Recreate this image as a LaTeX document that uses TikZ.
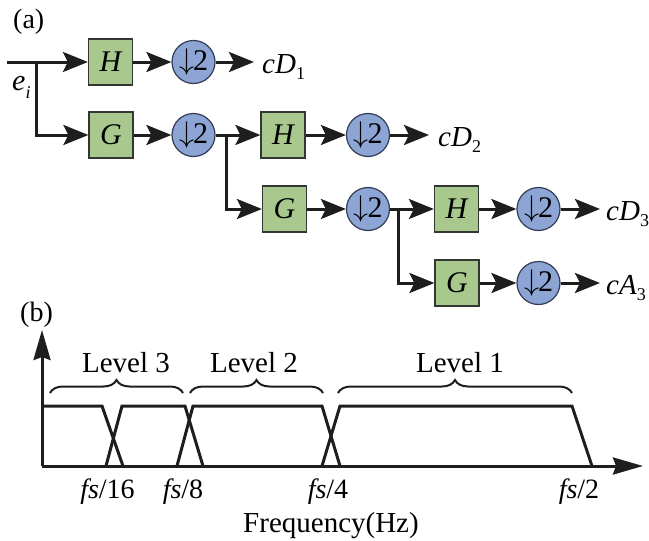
\RequirePackage{fix-cm}
\documentclass[tikz,border=0pt]{standalone}
\usepackage{fontspec}
\setmainfont{Liberation Serif}
\usetikzlibrary{arrows.meta,decorations.pathreplacing}
\newcommand\fsz[1]{\fontsize{#1}{#1}\selectfont}
\definecolor{boxgreen}{RGB}{168,200,141}
\definecolor{circblue}{RGB}{140,165,212}
\definecolor{boxdraw}{RGB}{50,55,50}
\definecolor{circdraw}{RGB}{50,60,85}
\definecolor{linecol}{RGB}{30,30,30}
\tikzset{
  filt/.style={draw=boxdraw, fill=boxgreen, line width=1.2pt, minimum width=44pt, minimum height=46pt, inner sep=0pt, font=\fsz{30}\itshape},
  dsamp/.style={circle, draw=circdraw, fill=circblue, line width=1.2pt, minimum size=43pt, inner sep=0pt, font=\fsz{30}},
  conn/.style={line width=3pt, draw=linecol},
  arr/.style={conn, -{Stealth[length=25pt,width=20pt,inset=5pt]}},
  axisarr/.style={conn, -{Stealth[length=30pt,width=17pt,inset=3pt]}},
  band/.style={line width=3pt, draw=linecol},
  lvlbrace/.style={decorate, decoration={brace, amplitude=13pt}, line width=2pt, draw=linecol},
  outlbl/.style={anchor=base west, inner sep=0pt, font=\fsz{29}},
  txt/.style={inner sep=0pt, font=\fsz{28}},
}
\newcommand\dn{\raisebox{1pt}{$\downarrow$}\kern-1pt2}
\begin{document}
\begin{tikzpicture}[x=1pt,y=-1pt]
\useasboundingbox (0,0) rectangle (649,541);
% ---------- (a) ----------
\node[txt, anchor=west] (la) at (13,22) {(a)};
% row 1
\coordinate (in) at (7,62);
\coordinate (b1) at (36,62);
\node[filt] (H1) at (110.5,62) {H};
\node[dsamp] (D1) at (193.5,62) {\dn};
\coordinate (o1) at (254,62);
\node[outlbl] (t1) at (262,73) {\textit{cD}\raisebox{-6pt}{\fsz{18}1}};
\node[txt, anchor=base west, font=\fsz{30}] (ei) at (12,90) {\textit{e}\raisebox{-8pt}{\fsz{18}\textit{i}}};
% row 2
\node[filt] (G1) at (111,135) {G};
\node[dsamp] (D2) at (193.5,135) {\dn};
\coordinate (b2) at (226,135);
\node[filt] (H2) at (283,135) {H};
\node[dsamp] (D3) at (368,135) {\dn};
\coordinate (o2) at (429,135);
\node[outlbl] (t2) at (438,146) {\textit{cD}\raisebox{-6pt}{\fsz{18}2}};
% row 3
\node[filt] (G2) at (284.5,209) {G};
\node[dsamp] (D4) at (368,209) {\dn};
\coordinate (b3) at (398,209);
\node[filt] (H3) at (456.5,209) {H};
\node[dsamp] (D5) at (538.5,209) {\dn};
\coordinate (o3) at (600,209);
\node[outlbl] (t3) at (606,220) {\textit{cD}\raisebox{-6pt}{\fsz{18}3}};
% row 4
\node[filt] (G3) at (457,283) {G};
\node[dsamp] (D6) at (538.5,283) {\dn};
\coordinate (o4) at (600,283);
\node[outlbl] (t4) at (606,294) {\textit{cA}\raisebox{-6pt}{\fsz{18}3}};
% connectors
\draw[conn] (in) -- (b1);
\draw[arr] (b1) -- (H1);
\draw[arr] (b1) |- (G1);
\draw[arr] (H1) -- (D1);
\draw[arr] (D1) -- (o1);
\draw[arr] (G1) -- (D2);
\draw[conn] (D2) -- (b2);
\draw[arr] (b2) -- (H2);
\draw[arr] (b2) |- (G2);
\draw[arr] (H2) -- (D3);
\draw[arr] (D3) -- (o2);
\draw[arr] (G2) -- (D4);
\draw[conn] (D4) -- (b3);
\draw[arr] (b3) -- (H3);
\draw[arr] (b3) |- (G3);
\draw[arr] (H3) -- (D5);
\draw[arr] (D5) -- (o3);
\draw[arr] (G3) -- (D6);
\draw[arr] (D6) -- (o4);
% ---------- (b) ----------
\node[txt, anchor=west] (lb) at (20,315) {(b)};
\coordinate (O) at (42,466);
\coordinate (ytip) at (42,330);
\coordinate (xtip) at (643,466);
\draw[band] (42,406) -- (102,406) -- (123,466);
\draw[band] (106,466) -- (122,406) -- (185,406) -- (203,466);
\draw[band] (177,466) -- (193,406) -- (322,406) -- (340,466);
\draw[band] (322,466) -- (340,406) -- (572,406) -- (592,466);
\draw[axisarr] (O) -- (ytip);
\draw[axisarr] (O) -- (xtip);
\draw[lvlbrace] (50,393) -- (183,393);
\draw[lvlbrace] (190,393) -- (323,393);
\draw[lvlbrace] (338,393) -- (572,393);
\node[txt, anchor=base, font=\fsz{29}] (l3) at (126,372) {Level 3};
\node[txt, anchor=base, font=\fsz{29}] (l2) at (254,372) {Level 2};
\node[txt, anchor=base, font=\fsz{29}] (l1) at (460,372) {Level 1};
\node[txt, anchor=base] (f16) at (107.5,498) {\textit{fs}/16};
\node[txt, anchor=base] (f8) at (183,498) {\textit{fs}/8};
\node[txt, anchor=base] (f4) at (328,498) {\textit{fs}/4};
\node[txt, anchor=base] (f2) at (579,498) {\textit{fs}/2};
\node[txt, anchor=base, font=\fsz{29}] (fq) at (331,532) {Frequency(Hz)};
\end{tikzpicture}
\end{document}
